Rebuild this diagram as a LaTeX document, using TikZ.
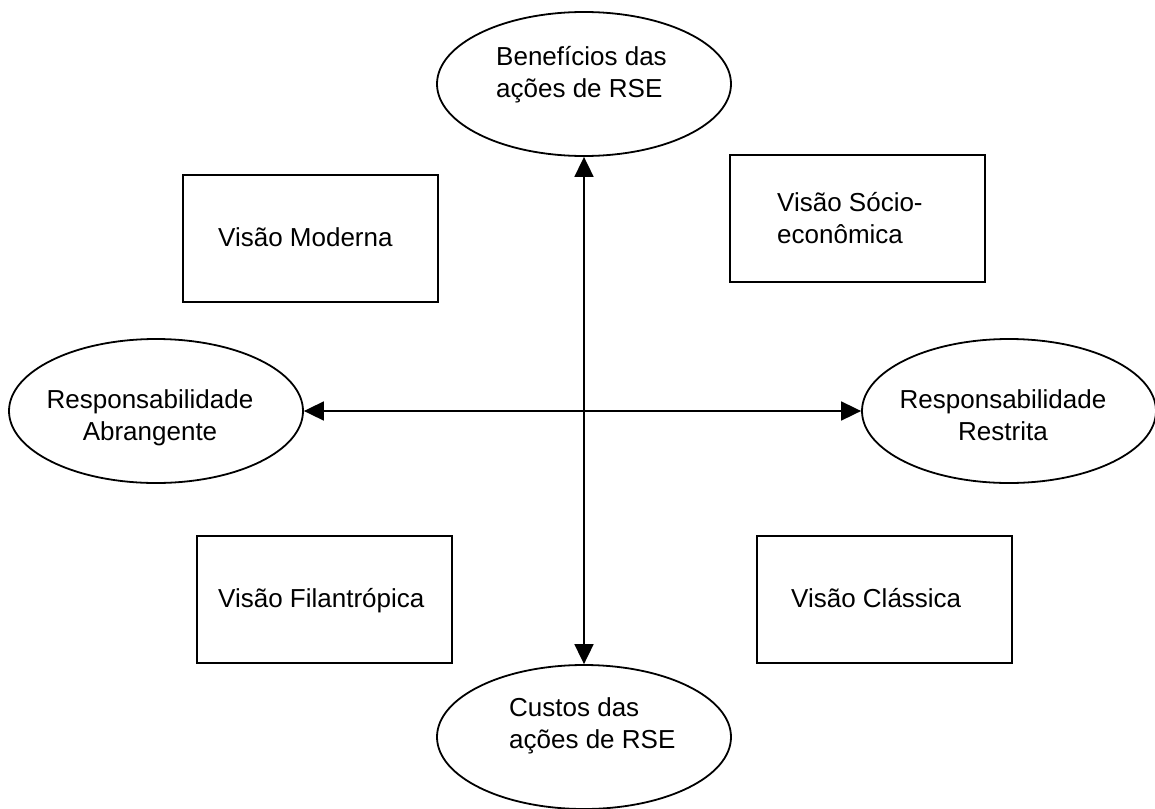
\documentclass[tikz,border=0pt]{standalone}
\usepackage{fontspec}
\setmainfont{Liberation Sans}
\usetikzlibrary{arrows.meta,shapes.geometric}
\begin{document}
\begin{tikzpicture}[x=1pt,y=-1pt,
  oval/.style={ellipse,draw,line width=1.8pt,minimum width=294pt,minimum height=144pt,inner sep=0pt},
  view/.style={rectangle,draw,line width=1.8pt,minimum width=255pt,minimum height=127pt,inner sep=0pt},
  lbl/.style={font=\fontsize{26}{31.5}\selectfont,inner sep=0pt,align=left,anchor=base west},
  clbl/.style={font=\fontsize{26}{31.5}\selectfont,inner sep=0pt,align=center,anchor=base},
  axis/.style={line width=1.8pt,{Triangle[length=20pt,width=19pt]}-{Triangle[length=20pt,width=19pt]}}]
\useasboundingbox (0,0) rectangle (1155,808);

% the four poles
\node[oval] (ben) at (584,84) {};
\node[oval] (cus) at (584,737) {};
\node[oval] (abr) at (156,411) {};
\node[oval] (res) at (1009,411) {};

% the four views
\node[view] (mod) at (310.5,238.5) {};
\node[view] (soc) at (857.5,218.5) {};
\node[view] (fil) at (324.5,599.5) {};
\node[view] (cla) at (884.5,599.5) {};

% axes
\draw[axis] (ben.south) -- (cus.north);
\draw[axis] (abr.east) -- (res.west);

% texts (base anchor sits on the last line's baseline)
\node[lbl] (tben) at (496,97) {Benefícios das\\ações de RSE};
\node[lbl] (tcus) at (509,748) {Custos das\\ações de RSE};
\node[clbl] (tabr) at (150,440) {Responsabilidade\\Abrangente};
\node[clbl] (tres) at (1003,440) {Responsabilidade\\Restrita};
\node[lbl] (tmod) at (218,246) {Visão Moderna};
\node[lbl] (tsoc) at (777,243) {Visão Sócio-\\econômica};
\node[lbl] (tfil) at (218,607) {Visão Filantrópica};
\node[lbl] (tcla) at (791,607) {Visão Clássica};
\end{tikzpicture}
\end{document}
